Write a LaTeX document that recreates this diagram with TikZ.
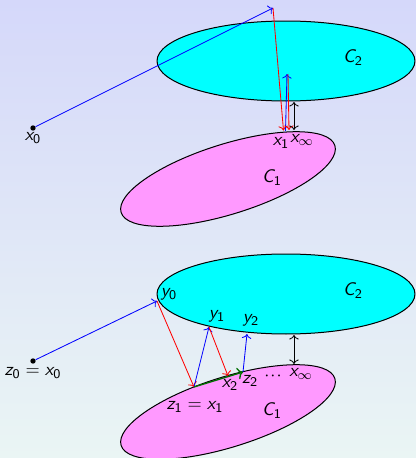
\documentclass[tikz,border=0pt]{standalone}
\usetikzlibrary{arrows.meta,calc}
\DeclareMathAlphabet{\mathsfsl}{OT1}{cmss}{m}{sl}
\newcommand{\sx}{\mathsfsl{x}}
\newcommand{\sy}{\mathsfsl{y}}
\newcommand{\sz}{\mathsfsl{z}}
\newcommand{\sC}{\mathsfsl{C}}
\newcommand{\sub}[1]{_{\mathsf{#1}}}
\definecolor{bgtop}{RGB}{213,216,250}
\definecolor{bgbot}{RGB}{234,245,244}
\definecolor{setone}{HTML}{FF99FF}
\definecolor{settwo}{HTML}{00FFFF}
\definecolor{stepgreen}{RGB}{0,110,0}

\begin{document}
\begin{tikzpicture}[x=0.6pt,y=0.6pt,line join=round,
  font=\fontsize{11}{13}\selectfont,
  lbl/.style={inner sep=0pt},
  pt/.style={circle,fill=black,inner sep=0pt,minimum size=3.2pt},
  proj/.style={->,line width=.5pt},
  gap/.style={<->,line width=.5pt}]
  \useasboundingbox (0,0) rectangle (416,458);
  \shade[top color=bgtop,bottom color=bgbot] (0,0) rectangle (416,458);
  \clip (0,0) rectangle (416,458);

  % upper picture: plain alternating projections
  \draw[fill=settwo,line width=.6pt] (286,397) ellipse [x radius=129,y radius=40];
  \draw[fill=setone,line width=.6pt,rotate around={17.4:(228,279)}] (228,279) ellipse [x radius=112,y radius=35];
  \node[lbl] (c2a) at (353,400) {$\sC\sub{2}$};
  \node[lbl] (c1a) at (272,280) {$\sC\sub{1}$};

  \node[pt] (x0) at (33,330) {};
  \node[lbl] (x0l) at (33,320) {$\sx\sub{0}$};
  \coordinate (p0) at (273,450);
  \coordinate (x1a) at (283.5,327.5);
  \coordinate (x1b) at (285.5,327);
  \coordinate (p1) at (287,384);
  \coordinate (p1b) at (288,384);
  \coordinate (x2a) at (289,328);
  \coordinate (ga) at (294,356);
  \coordinate (gb) at (294,328);
  \draw[proj,blue] (x0) -- (p0);
  \draw[proj,red] (p0) -- (x1a);
  \draw[proj,blue] (x1b) -- (p1);
  \draw[proj,red] (p1b) -- (x2a);
  \draw[gap] (ga) -- (gb);
  \node[lbl] (x1l) at (281,315) {$\sx\sub{1}$};
  \node[lbl] (xinfa) at (302,318) {$\sx_{\infty}$};

  % lower picture: Dykstra-type steps
  \draw[fill=settwo,line width=.6pt] (286,164) ellipse [x radius=129,y radius=40];
  \draw[fill=setone,line width=.6pt,rotate around={17.4:(228,46)}] (228,46) ellipse [x radius=112,y radius=35];
  \node[lbl] (c2b) at (353,167) {$\sC\sub{2}$};
  \node[lbl] (c1b) at (272,47) {$\sC\sub{1}$};

  \node[pt] (z0) at (33,97) {};
  \node[lbl] (z0l) at (33,85) {$\sz\sub{0}=\sx\sub{0}$};
  \coordinate (y0) at (157,157);
  \coordinate (z1) at (194,71);
  \coordinate (y1) at (209,131);
  \coordinate (x2) at (228,82);
  \coordinate (z2) at (243,86);
  \coordinate (y2) at (247,124);
  \coordinate (gc) at (294,123);
  \coordinate (gd) at (294,94);
  \draw[proj,blue] (z0) -- (y0);
  \draw[proj,red] (y0) -- (z1);
  \draw[proj,blue] (z1) -- (y1);
  \draw[proj,red] (y1) -- (x2);
  \draw[proj,stepgreen,line width=.8pt] (z1) -- (z2);
  \draw[proj,blue] (z2) -- (y2);
  \draw[gap] (gc) -- (gd);

  \node[lbl] (y0l) at (169,164) {$\sy\sub{0}$};
  \node[lbl] (y1l) at (217,142) {$\sy\sub{1}$};
  \node[lbl] (y2l) at (251,138) {$\sy\sub{2}$};
  \node[lbl] (x2l) at (230,73) {$\sx\sub{2}$};
  \node[lbl] (z2l) at (250,77) {$\sz\sub{2}$};
  \node[lbl] (dots) at (273,82) {$\cdot\!\cdot\!\cdot$};
  \node[lbl] (xinfb) at (301,84) {$\sx_{\infty}$};
  \node[lbl] (z1l) at (195,51) {$\sz\sub{1}=\sx\sub{1}$};
\end{tikzpicture}
\end{document}
